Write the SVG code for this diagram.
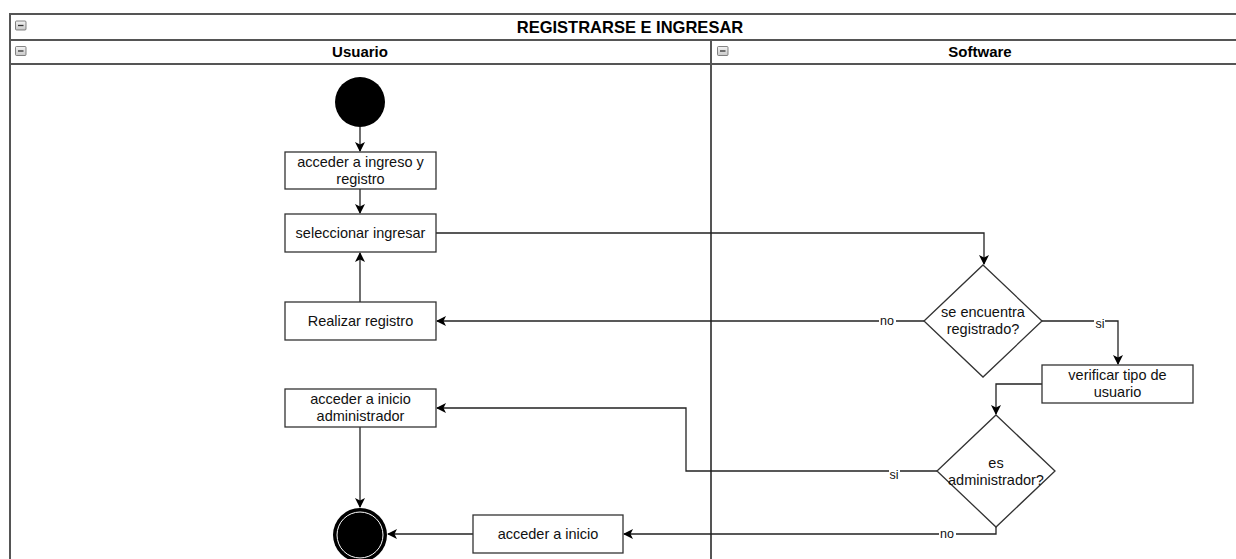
<svg xmlns="http://www.w3.org/2000/svg" width="1236" height="559" viewBox="0 0 1236 559">
  <style>
    .lane { fill: #ffffff; stroke: #555555; stroke-width: 2; }
    .hdr { font-family: "Liberation Sans", Arial, sans-serif; font-size: 15px; font-weight: bold; fill: #000; text-anchor: middle; }
    .title { font-size: 16.5px; }
    .box { fill: #ffffff; stroke: #333333; stroke-width: 1.3; }
    .txt { font-family: "Liberation Sans", Arial, sans-serif; font-size: 14.5px; fill: #111; text-anchor: middle; }
    .lbl { font-family: "Liberation Sans", Arial, sans-serif; font-size: 12.5px; fill: #111; text-anchor: middle; }
    .edge { fill: none; stroke: #222222; stroke-width: 1.3; }
    .lblbg { fill: #ffffff; }
    .icon { fill: url(#iconGrad); stroke: #666; stroke-width: 0.8; }
  </style>
  <defs>
    <marker id="arrow" viewBox="0 0 10 10" refX="9" refY="5" markerWidth="10" markerHeight="10" markerUnits="userSpaceOnUse" orient="auto">
      <path d="M0,0 L10,5 L0,10 L2.5,5 Z" fill="#000"/>
    </marker>
    <linearGradient id="iconGrad" x1="0" y1="0" x2="0" y2="1">
      <stop offset="0" stop-color="#f4f4f4"/>
      <stop offset="1" stop-color="#c8c8c8"/>
    </linearGradient>
  </defs>

  <rect width="1236" height="559" fill="#ffffff"/>

  <!-- pool and lanes -->
  <g id="pool">
    <rect class="lane" x="10" y="14" width="1240" height="560"/>
    <line class="lane" x1="10" y1="40" x2="1250" y2="40"/>
    <line class="lane" x1="10" y1="64" x2="1250" y2="64"/>
    <line class="lane" x1="711" y1="40" x2="711" y2="574"/>
    <text class="hdr title" x="630" y="32.5">REGISTRARSE E INGRESAR</text>
    <text class="hdr" x="360" y="57">Usuario</text>
    <text class="hdr" x="980" y="57">Software</text>
    <g>
      <rect class="icon" x="15.5" y="21" width="10.5" height="9" rx="1"/>
      <line x1="18" y1="25.5" x2="23.5" y2="25.5" stroke="#333" stroke-width="1.3"/>
      <rect class="icon" x="15.5" y="46.5" width="10.5" height="9" rx="1"/>
      <line x1="18" y1="51" x2="23.5" y2="51" stroke="#333" stroke-width="1.3"/>
      <rect class="icon" x="717.5" y="46.5" width="10.5" height="9" rx="1"/>
      <line x1="720" y1="51" x2="725.5" y2="51" stroke="#333" stroke-width="1.3"/>
    </g>
  </g>

  <!-- connectors -->
  <g id="connectors">
    <path class="edge" d="M360,127 L360,151" marker-end="url(#arrow)"/>
    <path class="edge" d="M360,189 L360,213" marker-end="url(#arrow)"/>
    <path class="edge" d="M436,233 L984,233 L984,264" marker-end="url(#arrow)"/>
    <path class="edge" d="M360,302 L360,253" marker-end="url(#arrow)"/>
    <path class="edge" d="M924,321 L437,321" marker-end="url(#arrow)"/>
    <path class="edge" d="M1042,321 L1118,321 L1118,364" marker-end="url(#arrow)"/>
    <path class="edge" d="M1042,384 L996,384 L996,414" marker-end="url(#arrow)"/>
    <path class="edge" d="M937,471 L686,471 L686,408 L437,408" marker-end="url(#arrow)"/>
    <path class="edge" d="M360,427 L360,507" marker-end="url(#arrow)"/>
    <path class="edge" d="M996,527 L996,534 L624,534" marker-end="url(#arrow)"/>
    <path class="edge" d="M473,534 L388,534" marker-end="url(#arrow)"/>

    <rect class="lblbg" x="879" y="315" width="17" height="12"/>
    <text class="lbl" x="887" y="325">no</text>
    <rect class="lblbg" x="1094" y="317" width="11" height="12"/>
    <text class="lbl" x="1100" y="328">si</text>
    <rect class="lblbg" x="889" y="466" width="11" height="12"/>
    <text class="lbl" x="894" y="479">si</text>
    <rect class="lblbg" x="939" y="528" width="17" height="12"/>
    <text class="lbl" x="947" y="538">no</text>
  </g>

  <!-- nodes -->
  <g id="start">
    <circle cx="360" cy="102" r="25" fill="#000"/>
  </g>
  <g id="acceder-ingreso">
    <rect class="box" x="285" y="152" width="151" height="37"/>
    <text class="txt" x="360.5" y="167">acceder a ingreso y</text>
    <text class="txt" x="360.5" y="184">registro</text>
  </g>
  <g id="seleccionar">
    <rect class="box" x="285" y="214" width="151" height="38"/>
    <text class="txt" x="360.5" y="238">seleccionar ingresar</text>
  </g>
  <g id="realizar-registro">
    <rect class="box" x="285" y="302" width="151" height="38"/>
    <text class="txt" x="360.5" y="326">Realizar registro</text>
  </g>
  <g id="acceder-admin">
    <rect class="box" x="285" y="389" width="151" height="38"/>
    <text class="txt" x="360.5" y="404">acceder a inicio</text>
    <text class="txt" x="360.5" y="421">administrador</text>
  </g>
  <g id="end">
    <circle cx="360" cy="535" r="27" fill="#000"/>
    <circle cx="360" cy="535" r="23" fill="#000" stroke="#ffffff" stroke-width="1"/>
  </g>
  <g id="acceder-inicio">
    <rect class="box" x="473" y="515" width="150" height="38"/>
    <text class="txt" x="548" y="539">acceder a inicio</text>
  </g>
  <g id="se-encuentra">
    <polygon class="box" points="983,265 1042,321 983,377 924,321"/>
    <text class="txt" x="983" y="317">se encuentra</text>
    <text class="txt" x="983" y="334">registrado?</text>
  </g>
  <g id="verificar">
    <rect class="box" x="1042" y="365" width="151" height="38"/>
    <text class="txt" x="1117.5" y="380">verificar tipo de</text>
    <text class="txt" x="1117.5" y="397">usuario</text>
  </g>
  <g id="es-admin">
    <polygon class="box" points="996,415 1055,471 996,527 937,471"/>
    <text class="txt" x="996" y="468">es</text>
    <text class="txt" x="996" y="485">administrador?</text>
  </g>
</svg>
